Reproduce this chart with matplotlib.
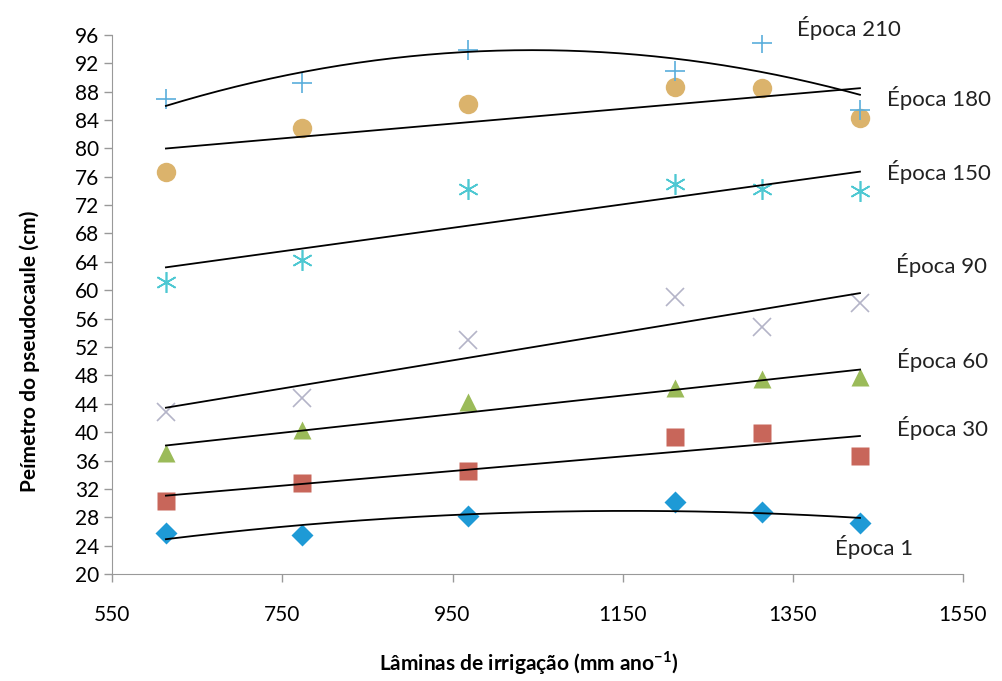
import matplotlib
matplotlib.use("Agg")
import matplotlib.pyplot as plt
import numpy as np

# irrigation depths (mm/year)
laminas = [613, 773, 968, 1211, 1314, 1429]

# pseudostem perimeter (cm) per evaluation epoch
epoca_1 = [25.8, 25.5, 28.2, 30.2, 28.7, 27.2]
epoca_30 = [30.3, 32.8, 34.5, 39.3, 39.9, 36.6]
epoca_60 = [37.1, 40.3, 44.3, 46.2, 47.5, 47.8]
epoca_90 = [42.8, 44.8, 53.0, 59.1, 54.8, 58.2]
epoca_150 = [61.2, 64.3, 74.2, 74.9, 74.2, 74.0]
epoca_180 = [76.7, 82.8, 86.3, 88.7, 88.5, 84.2]
epoca_210 = [86.9, 89.2, 93.9, 90.9, 94.9, 85.4]

labels = ["Época 1", "Época 30", "Época 60", "Época 90", "Época 150", "Época 180", "Época 210"]
label_pos = [(1400, 23.8), (1472, 40.6), (1472, 50.2), (1471, 63.6),
             (1461, 76.7), (1461, 87.1), (1355, 97.0)]

plt.rcParams["font.family"] = ["Lato", "DejaVu Sans"]

series = [
    (epoca_1, "D", "#1e9ad6", 2, 11),
    (epoca_30, "s", "#c8665a", 1, 13),
    (epoca_60, "^", "#9bbb59", 1, 13),
    (epoca_90, "x", "#b4b4c8", 1, 13),
    (epoca_150, (6, 2, 0), "#4ec8d2", 1, 15),
    (epoca_180, "o", "#dbb36c", 1, 14),
    (epoca_210, "+", "#5aaedc", 2, 14),
]

fig = plt.figure(figsize=(10.03, 6.81), dpi=100)
ax = fig.add_axes([0.112, 0.157, 0.848, 0.792])

x = np.array(laminas, dtype=float)
xs = np.linspace(x.min(), x.max(), 200)
for (vals, marker, color, deg, ms), lab, pos in zip(series, labels, label_pos):
    thin = marker in ("x", "+") or isinstance(marker, tuple)
    if thin:
        ax.plot(x, vals, ls="none", marker=marker, ms=ms, color=color, mew=1.2, zorder=3)
    else:
        ax.plot(x, vals, ls="none", marker=marker, ms=ms, color=color, mec="none", zorder=3)
    coef = np.polyfit(x, vals, deg)
    ax.plot(xs, np.polyval(coef, xs), color="black", lw=1.3, zorder=4)
    ax.text(pos[0], pos[1], lab, fontsize=16, va="center", ha="left", color="#222222")

ax.set_xlim(550, 1550)
ax.set_ylim(20, 96)
ax.set_xticks(range(550, 1551, 200))
ax.set_yticks(range(20, 97, 4))
ax.tick_params(axis="both", labelsize=15, color="#999999", length=6, width=1)
ax.tick_params(axis="x", pad=16)
for side in ("top", "right"):
    ax.spines[side].set_visible(False)
for side in ("left", "bottom"):
    ax.spines[side].set_color("#999999")

ax.set_xlabel("Lâminas de irrigação (mm ano$^{\\mathregular{-1}}$)", fontsize=15, fontweight="bold")
ax.set_ylabel("Peímetro do pseudocaule (cm)", fontsize=15, fontweight="bold")
ax.xaxis.set_label_coords(0.49, -0.14)
ax.yaxis.set_label_coords(-0.085, 0.413)

fig.savefig("out.png", dpi=100)
